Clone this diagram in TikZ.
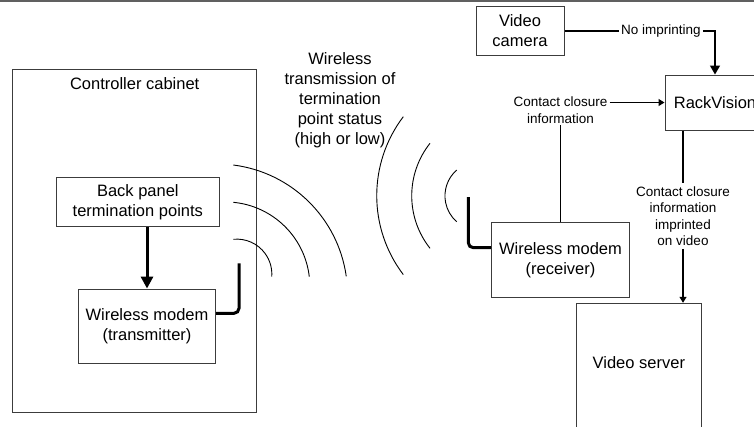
\documentclass[tikz,border=0pt]{standalone}
\usepackage{fontspec}
\setmainfont{Liberation Sans}
\usetikzlibrary{arrows.meta}
\newcommand{\dgbig}{\fontsize{16.5}{20}\selectfont}
\newcommand{\dgsmall}{\fontsize{13.5}{16.5}\selectfont}
\definecolor{boxgray}{HTML}{3C3C3C}
\definecolor{topgray}{HTML}{606060}
\begin{document}
\begin{tikzpicture}[x=1pt,y=-1pt,
  box/.style={draw=boxgray, line width=1pt, rectangle, inner sep=0pt, font=\dgbig, align=center},
  txt/.style={inner sep=0pt, font=\dgbig, align=center},
  lbl/.style={inner sep=2pt, font=\dgsmall, align=center},
  conn/.style={draw=black, line width=1.2pt},
  smallhead/.style={-{Triangle[length=6pt,width=7pt]}},
  camline/.style={draw=black, line width=1.4pt},
  bighead/.style={-{Triangle[length=9pt,width=10pt]}},
  thickarrow/.style={draw=black, line width=3pt, -{Triangle[length=12pt,width=12pt]}},
  antenna/.style={draw=black, line width=3pt, rounded corners=5pt},
  wave/.style={draw=black, line width=0.9pt}
]
\useasboundingbox (0,0) rectangle (754,426);
\clip (0,0) rectangle (754,426);

% top rule
\draw[topgray, line width=1.5pt] (0,0.75) -- (754,0.75);

% controller cabinet
\node[box, minimum width=244pt, minimum height=343.3pt] (cab) at (134.7,240.7) {};
\node[txt] (cabt) at (134.7,84) {Controller cabinet};
\node[box, minimum width=162.3pt, minimum height=49pt] (bp) at (137.85,202.2) {Back panel\\termination points};
\node[box, minimum width=137.4pt, minimum height=74.3pt] (tx) at (147,326.2) {Wireless modem\\(transmitter)};

% receiver side
\node[box, minimum width=137.6pt, minimum height=74.6pt] (rx) at (560.5,260) {Wireless modem\\(receiver)};
\node[box, minimum width=88pt, minimum height=48.3pt] (cam) at (520,30.85) {Video\\camera};
\node[box, minimum width=100pt, minimum height=55pt] (rv) at (715,102.5) {RackVision};
\node[box, minimum width=125.7pt, minimum height=146.7pt] (vs) at (638.85,376.65) {};
\node[txt] (vst) at (638.85,363) {Video server};

% wireless text
\node[txt] (wt) at (340,100) {Wireless\\transmission of\\termination\\point status\\(high or low)};

% labels
\node[lbl] (ni) at (661,30.85) {No imprinting};
\node[lbl] (cc) at (560.5,110) {Contact closure\\information};
\node[lbl, inner sep=3pt] (ci) at (683,216) {Contact closure\\information\\imprinted\\on video};

% connectors
\draw[thickarrow] (tx.north |- bp.south) -- (tx.north);
\coordinate (txat) at (239,263.3);
\draw[antenna] ([yshift=12.9pt]tx.east) -| (txat);
\coordinate (rxat) at (468.3,197);
\draw[antenna] (rxat) |- ([yshift=12.3pt]rx.west);

\draw[conn] (rx.north) -- (cc.south);
\draw[conn, smallhead] (cc.east |- rv.west) -- (rv.west);
\draw[camline] (cam.east) -- (ni.west);
\draw[camline, bighead] (ni.east) -| (rv.north);
\draw[conn] (rv.south -| ci.north) -- (ci.north);
\draw[conn, smallhead] (ci.south) -- (ci.south |- vs.north);

% transmitter waves
\draw[wave] (233.3,165) arc[start angle=-82.8, end angle=-8, radius=130.6];
\draw[wave] (233.3,202.3) arc[start angle=-84.6, end angle=-6.6, radius=84.5];
\draw[wave] (233.3,239.3) arc[start angle=-95.8, end angle=4.2, radius=35];

% receiver waves
\draw[wave] (403.3,116.7) arc[start angle=217.2, end angle=142.8, radius=130.6];
\draw[wave] (430,143.3) arc[start angle=218.4, end angle=141.6, radius=84.5];
\draw[wave] (456.7,170) arc[start angle=228.8, end angle=131.2, radius=34.4];
\end{tikzpicture}
\end{document}
